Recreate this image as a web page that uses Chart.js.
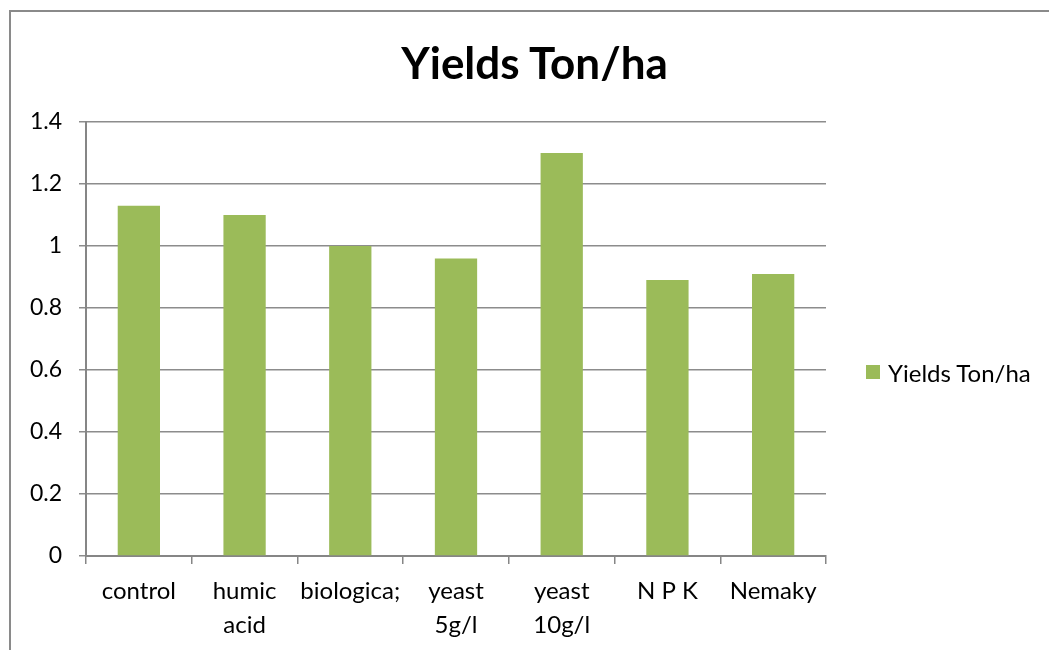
<!DOCTYPE html>
<html>
<head>
<meta charset="utf-8">
<script src="https://cdn.jsdelivr.net/npm/chart.js@4"></script>
<style>
  html, body { margin: 0; padding: 0; background: #fff; }
  body { width: 1049px; height: 650px; overflow: hidden; position: relative; }
  #frame { position: absolute; left: 9px; top: 10px; width: 1200px; height: 800px;
           border-left: 2px solid #8a8a8a; border-top: 2px solid #8a8a8a; box-sizing: border-box; }
  #wrap { position: absolute; left: 0; top: 0; width: 1049px; height: 650px; }
  #title { position: absolute; left: 0; width: 1069px; top: 35px; height: 54px; line-height: 54px;
           text-align: center; font-family: Lato, sans-serif; font-weight: bold; font-size: 44px; color: #000; white-space: nowrap; }
  #legend { position: absolute; left: 866px; top: 358px; font-family: Lato, sans-serif; font-size: 24px;
            color: #000; display: flex; align-items: center; height: 28px; white-space: nowrap; }
  #legend .sw { width: 14px; height: 14px; background: #9BBB59; margin-right: 8px; }
</style>
</head>
<body>
<div id="frame"></div>
<div id="wrap"><canvas id="c" width="1049" height="650"></canvas></div>
<div id="title"></div>
<div id="legend"><span class="sw"></span><span id="legtxt"></span></div>
<script>
const categories = ['control', ['humic', 'acid'], 'biologica;', ['yeast', '5g/l'], ['yeast', '10g/l'], 'N P K', 'Nemaky'];
const seriesName = 'Yields Ton/ha';
const yieldValues = [1.13, 1.10, 1.00, 0.96, 1.30, 0.89, 0.91];
const yTickLabels = ['0', '0.2', '0.4', '0.6', '0.8', '1', '1.2', '1.4'];
const chartTitle = 'Yields Ton/ha';

document.getElementById('legtxt').textContent = seriesName;
document.getElementById('title').textContent = chartTitle;

const axisColor = '#868686';
new Chart(document.getElementById('c'), {
  type: 'bar',
  data: {
    labels: categories,
    datasets: [{
      label: seriesName,
      data: yieldValues,
      backgroundColor: '#9BBB59',
      borderWidth: 0,
      categoryPercentage: 1.0,
      barPercentage: 0.4
    }]
  },
  options: {
    responsive: false,
    animation: false,
    devicePixelRatio: 1,
    layout: { padding: { left: 0, right: 223, top: 122, bottom: 0 } },
    plugins: {
      legend: { display: false },
      tooltip: { enabled: false },
      title: { display: false }
    },
    scales: {
      x: {
        offset: true,
        grid: { display: true, drawOnChartArea: false, drawTicks: true, tickLength: 8, color: axisColor, lineWidth: 1.5, offset: true },
        border: { display: true, color: axisColor, width: 2 },
        ticks: { color: '#000', font: { family: 'Lato', size: 24, lineHeight: 1.42 }, padding: 10, maxRotation: 0, autoSkip: false },
        afterFit: (s) => { s.height = 94; }
      },
      y: {
        min: 0, max: 1.4,
        ticks: {
          stepSize: 0.2,
          color: '#000',
          font: { family: 'Lato', size: 23 },
          padding: 17,
          callback: (v, i) => yTickLabels[i]
        },
        grid: { color: '#8c8c8c', lineWidth: 1.5, tickLength: 7, drawTicks: true },
        border: { display: true, color: axisColor, width: 2 },
        afterFit: (s) => { s.width = 86; }
      }
    }
  }
});
</script>
</body>
</html>
